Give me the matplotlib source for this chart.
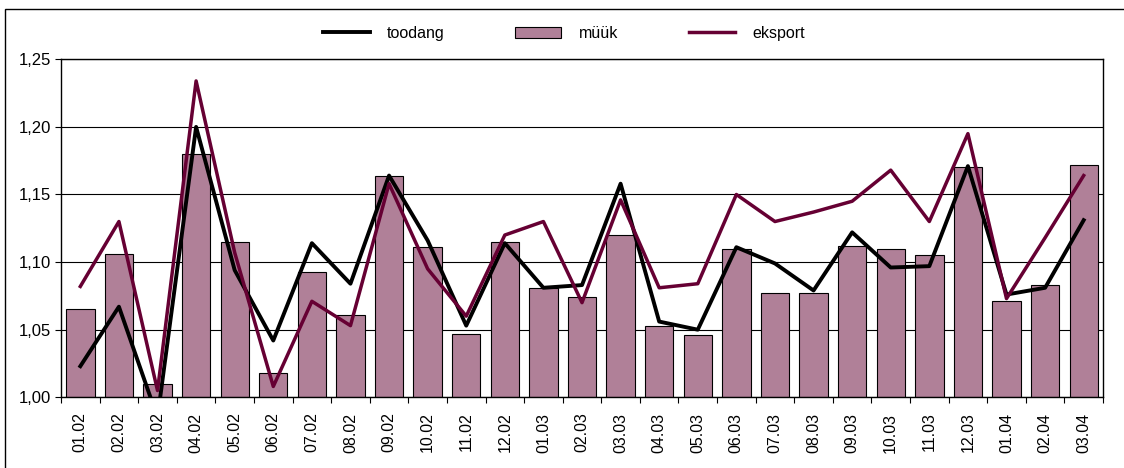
import matplotlib
matplotlib.use("Agg")
import matplotlib.pyplot as plt
from matplotlib.patches import Rectangle
from matplotlib.ticker import FixedLocator, FuncFormatter

plt.rcParams['font.family'] = ['Liberation Sans', 'DejaVu Sans']

# kuud (month.year)
labels = ['01.02', '02.02', '03.02', '04.02', '05.02', '06.02', '07.02', '08.02', '09.02',
          '10.02', '11.02', '12.02', '01.03', '02.03', '03.03', '04.03', '05.03', '06.03',
          '07.03', '08.03', '09.03', '10.03', '11.03', '12.03', '01.04', '02.04', '03.04']

# müük - bars
muuk = [1.065, 1.106, 1.010, 1.180, 1.115, 1.018, 1.093, 1.061, 1.164,
        1.111, 1.047, 1.115, 1.081, 1.074, 1.120, 1.053, 1.046, 1.110,
        1.077, 1.077, 1.112, 1.110, 1.105, 1.170, 1.071, 1.083, 1.172]

# toodang - black line
toodang = [1.023, 1.067, 0.985, 1.200, 1.094, 1.042, 1.114, 1.084, 1.164,
           1.116, 1.053, 1.114, 1.081, 1.083, 1.158, 1.056, 1.050, 1.111,
           1.099, 1.079, 1.122, 1.096, 1.097, 1.171, 1.076, 1.081, 1.131]

# eksport - dark purple line
eksport = [1.082, 1.130, 1.005, 1.234, 1.107, 1.008, 1.071, 1.053, 1.158,
           1.095, 1.060, 1.120, 1.130, 1.070, 1.146, 1.081, 1.084, 1.150,
           1.130, 1.137, 1.145, 1.168, 1.130, 1.195, 1.073, 1.118, 1.164]

bar_col = '#B08098'
eks_col = '#660033'

fig = plt.figure(figsize=(11.24, 4.68), dpi=100)
ax = fig.add_axes([0.0543, 0.1511, 0.9270, 0.7222])

x = list(range(len(labels)))
ax.bar(x, [m - 1.0 for m in muuk], bottom=1.0, width=0.735, color=bar_col,
       edgecolor='black', linewidth=0.8, label='müük', zorder=2)
ax.plot(x, toodang, color='black', lw=2.8, label='toodang', zorder=3)
ax.plot(x, eksport, color=eks_col, lw=2.5, label='eksport', zorder=4)

ax.set_xlim(-0.5, len(labels) - 0.5)
ax.set_ylim(1.0, 1.25)
ax.set_yticks([1.00, 1.05, 1.10, 1.15, 1.20, 1.25])
ax.yaxis.set_major_formatter(FuncFormatter(lambda v, p: f'{v:.2f}'.replace('.', ',')))
ax.yaxis.grid(True, color='black', lw=0.8)
ax.set_axisbelow(True)

ax.set_xticks(x)
ax.set_xticklabels(labels, rotation=90)
ax.xaxis.set_minor_locator(FixedLocator([i - 0.5 for i in range(len(labels) + 1)]))
ax.tick_params(axis='x', which='major', length=0, pad=11, labelsize=11.5)
ax.tick_params(axis='x', which='minor', length=4, width=0.8, direction='out')
ax.tick_params(axis='y', length=4, width=0.8, pad=3, labelsize=12)

for s in ax.spines.values():
    s.set_linewidth(1.0)

# legend on top, order toodang / müük / eksport
h, l = ax.get_legend_handles_labels()
order = [l.index('toodang'), l.index('müük'), l.index('eksport')]
fig.legend([h[i] for i in order], [l[i] for i in order], loc='center',
           bbox_to_anchor=(0.502, 0.929), ncol=3, frameon=False, fontsize=11.5,
           handlelength=2.9, columnspacing=4.4, handletextpad=1.1)

# chart outer border (top + left visible)
fig.patches.append(Rectangle((5 / 1124, -0.05), 1.1, (459 / 468) + 0.05,
                             transform=fig.transFigure, fill=False,
                             edgecolor='black', lw=1.0))

fig.savefig('out.png', dpi=100)
